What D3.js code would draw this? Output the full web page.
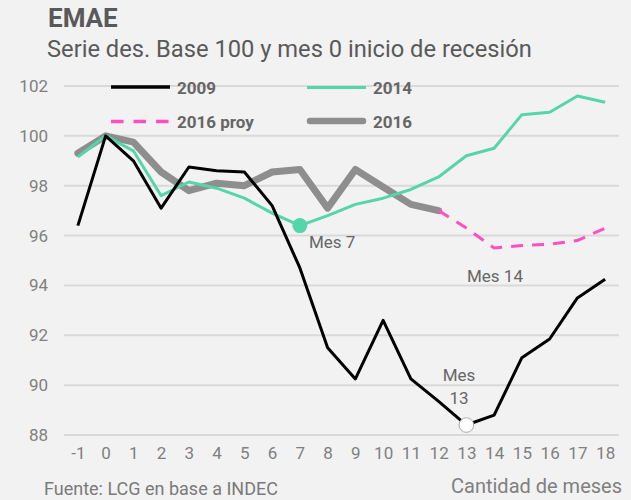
<!DOCTYPE html>
<html lang="es">
<head>
<meta charset="UTF-8">
<title>EMAE</title>
<script src="https://cdnjs.cloudflare.com/ajax/libs/d3/7.8.5/d3.min.js"></script>
<style>
  html, body { margin: 0; padding: 0; background: #f2f2f2; }
  svg { display: block; font-family: Roboto, "Noto Sans", sans-serif; }
</style>
</head>
<body>
<script>
var meses = [-1, 0, 1, 2, 3, 4, 5, 6, 7, 8, 9, 10, 11, 12, 13, 14, 15, 16, 17, 18];
var s2009 = [96.4, 100, 99.0, 97.1, 98.75, 98.6, 98.55, 97.2, 94.7, 91.5, 90.25, 92.6, 90.25, 89.35, 88.4, 88.8, 91.1, 91.85, 93.5, 94.25];
var s2014 = [99.15, 100, 99.4, 97.6, 98.15, 97.9, 97.5, 96.9, 96.4, 96.8, 97.25, 97.5, 97.85, 98.35, 99.2, 99.5, 100.85, 100.95, 101.6, 101.35];
var s2016 = [99.3, 100, 99.75, 98.55, 97.8, 98.1, 98.0, 98.55, 98.65, 97.1, 98.65, 97.95, 97.25, 97.0];
var mesesProy = [12, 13, 14, 15, 16, 17, 18];
var s2016proy = [97.0, 96.3, 95.5, 95.6, 95.65, 95.8, 96.3];
var yTicks = [88, 90, 92, 94, 96, 98, 100, 102];

var w = 631, h = 500;
var svg = d3.select("body").append("svg")
    .attr("width", w)
    .attr("height", h);

svg.append("rect").attr("width", w).attr("height", h).attr("fill", "#f2f2f2");

var x = d3.scalePoint().domain(meses).range([64, 619]).padding(0.5);
var y = d3.scaleLinear().domain([88, 102]).range([435, 86]);

// titles
svg.append("text").attr("x", 48).attr("y", 27)
    .attr("font-size", 26).attr("font-weight", "bold").attr("fill", "#595959")
    .text("EMAE");
svg.append("text").attr("x", 47).attr("y", 57)
    .attr("font-size", 23.7).attr("fill", "#595959")
    .text("Serie des. Base 100 y mes 0 inicio de recesión");

// grid + y labels
svg.append("g").selectAll("line").data(yTicks).enter().append("line")
    .attr("x1", 64).attr("x2", 619)
    .attr("y1", function(d) { return y(d); })
    .attr("y2", function(d) { return y(d); })
    .attr("stroke", "#d9d9d9").attr("stroke-width", 2);

var yAxis = svg.append("g").attr("transform", "translate(48,0)")
    .call(d3.axisLeft(y).tickValues(yTicks).tickSize(0).tickPadding(0));
yAxis.select(".domain").remove();
yAxis.selectAll("text").attr("font-size", 17).attr("fill", "#808080")
    .attr("font-family", "Roboto, sans-serif");

var xAxis = svg.append("g").attr("transform", "translate(0,447)")
    .call(d3.axisBottom(x).tickSize(0).tickPadding(0));
xAxis.select(".domain").remove();
xAxis.selectAll("text").attr("font-size", 17).attr("fill", "#808080")
    .attr("font-family", "Roboto, sans-serif");

svg.append("text").attr("x", 44).attr("y", 495)
    .attr("font-size", 18).attr("fill", "#7a7a7a")
    .text("Fuente: LCG en base a INDEC");
svg.append("text").attr("x", 622).attr("y", 493).attr("text-anchor", "end")
    .attr("font-size", 20).attr("fill", "#808080")
    .text("Cantidad de meses");

// lines
var line = d3.line()
    .x(function(d) { return x(d[0]); })
    .y(function(d) { return y(d[1]); });

function pares(xs, ys) { return ys.map(function(v, i) { return [xs[i], v]; }); }

svg.append("path").datum(pares(meses, s2016)).attr("d", line)
    .attr("fill", "none").attr("stroke", "#8e8e8e").attr("stroke-width", 7)
    .attr("stroke-linejoin", "round").attr("stroke-linecap", "round");
svg.append("path").datum(pares(mesesProy, s2016proy)).attr("d", line)
    .attr("fill", "none").attr("stroke", "#ff4fc0").attr("stroke-width", 3)
    .attr("stroke-dasharray", "12,9");
svg.append("path").datum(pares(meses, s2014)).attr("d", line)
    .attr("fill", "none").attr("stroke", "#55d6aa").attr("stroke-width", 3)
    .attr("stroke-linejoin", "round");
svg.append("path").datum(pares(meses, s2009)).attr("d", line)
    .attr("fill", "none").attr("stroke", "#000").attr("stroke-width", 3)
    .attr("stroke-linejoin", "round");

// annotations
svg.append("circle").attr("cx", x(7)).attr("cy", y(s2014[8])).attr("r", 7.5)
    .attr("fill", "#55d6aa");
svg.append("circle").attr("cx", x(13)).attr("cy", y(s2009[14])).attr("r", 7.3)
    .attr("fill", "#fff").attr("stroke", "#aaa").attr("stroke-width", 1);

var ann = svg.append("g").attr("font-size", 17).attr("fill", "#666");
ann.append("text").attr("x", 309).attr("y", 248).text("Mes 7");
ann.append("text").attr("x", 467).attr("y", 282).text("Mes 14");
ann.append("text").attr("x", 459).attr("y", 381).attr("text-anchor", "middle").text("Mes");
ann.append("text").attr("x", 459).attr("y", 404).attr("text-anchor", "middle").text("13");

// legend
var leyenda = [
  { nombre: "2009", color: "#000", ancho: 3.5, dash: null, lx: 111, ly: 87 },
  { nombre: "2014", color: "#55d6aa", ancho: 3, dash: null, lx: 307, ly: 87.5 },
  { nombre: "2016 proy", color: "#ff4fc0", ancho: 3.5, dash: "12.5,10", lx: 111, ly: 121.5 },
  { nombre: "2016", color: "#8e8e8e", ancho: 6.5, dash: null, lx: 307, ly: 121 }
];
var lg = svg.append("g").selectAll("g").data(leyenda).enter().append("g");
lg.append("line")
    .attr("x1", function(d) { return d.lx + (d.ancho > 5 ? 3 : 0); })
    .attr("x2", function(d) { return d.lx + 59 - (d.ancho > 5 ? 3 : 0); })
    .attr("y1", function(d) { return d.ly; })
    .attr("y2", function(d) { return d.ly; })
    .attr("stroke", function(d) { return d.color; })
    .attr("stroke-width", function(d) { return d.ancho; })
    .attr("stroke-linecap", function(d) { return d.ancho > 5 ? "round" : "butt"; })
    .attr("stroke-dasharray", function(d) { return d.dash; });
lg.append("text")
    .attr("x", function(d) { return d.lx + 66; })
    .attr("y", function(d) { return d.ly + 6.5; })
    .attr("font-size", 17).attr("font-weight", "bold").attr("fill", "#666")
    .text(function(d) { return d.nombre; });
</script>
</body>
</html>
